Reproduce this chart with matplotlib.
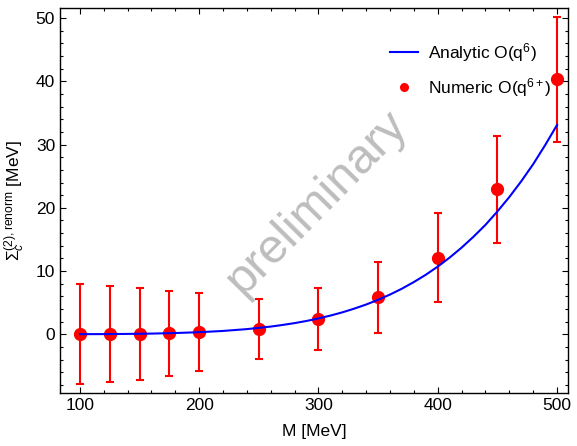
import numpy as np
import matplotlib
matplotlib.use('Agg')
from matplotlib import pyplot as plt
from matplotlib.lines import Line2D
from matplotlib.ticker import MultipleLocator

plt.rcParams['font.family'] = ['Liberation Sans', 'DejaVu Sans']
plt.rcParams['mathtext.fontset'] = 'custom'
plt.rcParams['mathtext.rm'] = 'Liberation Sans'
plt.rcParams['mathtext.it'] = 'Liberation Sans:italic'
plt.rcParams['mathtext.sf'] = 'Liberation Sans'

# numeric points (M in MeV, value and error in MeV)
m_num = [100, 125, 150, 175, 200, 250, 300, 350, 400, 450, 500]
sig_num = [0.0, 0.0, 0.0, 0.15, 0.3, 0.9, 2.45, 5.85, 12.1, 22.9, 40.3]
err_num = [7.95, 7.6, 7.25, 6.75, 6.15, 4.75, 4.9, 5.6, 7.0, 8.4, 9.9]

# analytic curve
m_ana = [100, 120, 140, 160, 180, 200, 220, 240, 260, 270, 280, 290, 300,
         310, 320, 330, 340, 350, 360, 370, 380, 390, 400, 410, 420, 430,
         440, 450, 460, 470, 480, 490, 500]
sig_ana = [0.01, 0.02, 0.05, 0.10, 0.19, 0.32, 0.52, 0.81, 1.21, 1.47, 1.76, 2.10, 2.5,
           2.95, 3.46, 4.05, 4.7, 5.45, 6.28, 7.21, 8.26, 9.41, 10.7, 12.13, 13.7, 15.43,
           17.3, 19.42, 21.7, 24.2, 26.9, 29.9, 33.1]

fig = plt.figure(figsize=(5.77, 4.46), dpi=100)
ax = fig.add_axes([0.104, 0.1195, 0.88, 0.8625])

ax.plot(m_ana, sig_ana, color='#0000ff', lw=1.5, zorder=3)
ax.errorbar(m_num, sig_num, yerr=err_num, fmt='o', color='#ff0000', ms=8.5,
            elinewidth=1.5, capsize=3, capthick=1.5, zorder=2)

ax.set_xlim(83.3, 509)
ax.set_ylim(-9.25, 51.6)
ax.xaxis.set_major_locator(MultipleLocator(100))
ax.xaxis.set_minor_locator(MultipleLocator(20))
ax.yaxis.set_major_locator(MultipleLocator(10))
ax.yaxis.set_minor_locator(MultipleLocator(2))
ax.tick_params(which='both', direction='in', top=True, right=True, labelsize=12.5, width=0.8)
ax.tick_params(which='major', length=4)
ax.tick_params(which='minor', length=2.3)
for s in ax.spines.values():
    s.set_linewidth(1.0)

ax.set_xlabel('M [MeV]', fontsize=12.5, labelpad=8)
ax.set_ylabel(r'$\Sigma_c^{(2),\mathrm{renorm}}$ [MeV]', fontsize=12.5, labelpad=6)

ax.text(299, 20.8, 'preliminary', fontsize=35, color='#bdbdbd', rotation=45.5,
        ha='center', va='center', rotation_mode='anchor', zorder=1)

handles = [Line2D([], [], color='#0000ff', lw=1.5),
           Line2D([], [], color='#ff0000', marker='o', ls='none', ms=5.5)]
ax.legend(handles, [r'Analytic O(q$^6$)', r'Numeric O(q$^{6+}$)'], loc='upper right',
          frameon=False, fontsize=12.5, bbox_to_anchor=(1.0, 0.955),
          handlelength=1.6, handletextpad=0.6, labelspacing=0.7)

fig.savefig('out.png', dpi=100)
